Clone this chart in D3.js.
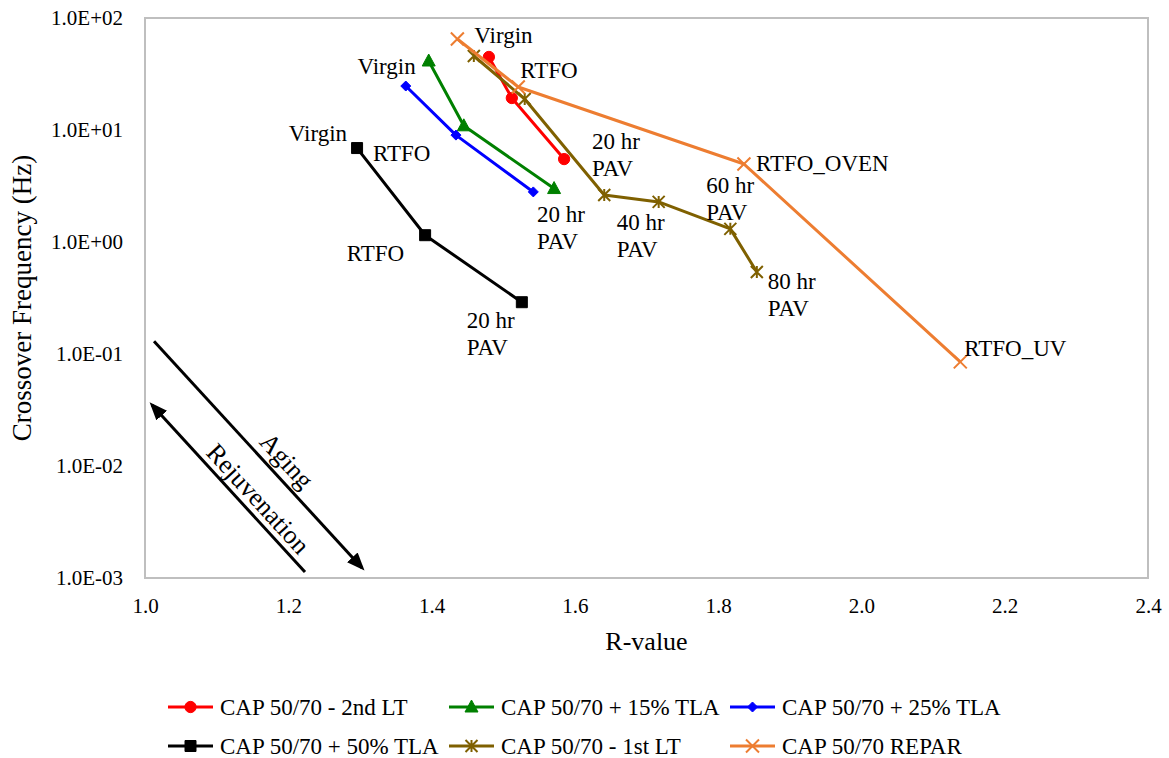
<!DOCTYPE html>
<html>
<head>
<meta charset="utf-8">
<script src="https://cdn.jsdelivr.net/npm/d3@7"></script>
<style>
  body { margin: 0; background: #fff; }
  text { font-family: "Liberation Serif", "Times New Roman", serif; fill: #000; }
</style>
</head>
<body>
<svg id="chart" width="1169" height="758"></svg>
<script>
// series names (legend order)
const seriesNames = [
    "CAP 50/70 - 2nd LT",
    "CAP 50/70 + 15% TLA",
    "CAP 50/70 + 25% TLA",
    "CAP 50/70 + 50% TLA",
    "CAP 50/70 - 1st LT",
    "CAP 50/70 REPAR"
];

// R-value / crossover frequency (Hz)
const lt2R = [1.480, 1.512, 1.585];
const lt2F = [44.9, 19.3, 5.5];

const tla15R = [1.396, 1.445, 1.571];
const tla15F = [41.3, 10.9, 3.0];

const tla25R = [1.364, 1.434, 1.542];
const tla25F = [24.7, 9.0, 2.8];

const tla50R = [1.296, 1.391, 1.526];
const tla50F = [6.9, 1.15, 0.29];

const lt1R = [1.459, 1.530, 1.641, 1.717, 1.817, 1.854];
const lt1F = [45.8, 18.9, 2.63, 2.28, 1.31, 0.54];

const reparR = [1.436, 1.521, 1.836, 2.138];
const reparF = [64.9, 24.2, 4.97, 0.085];

const xTicks = [1.0, 1.2, 1.4, 1.6, 1.8, 2.0, 2.2, 2.4];
const yTicks = [1e-3, 1e-2, 1e-1, 1e0, 1e1, 1e2];

// arrows drawn in data space: [x1, y1, x2, y2]
const agingArrow = [1.0126, 0.13, 1.303, 0.00123];
const rejuvArrow = [1.2233, 0.00113, 1.0098, 0.0351];

const seriesR = [lt2R, tla15R, tla25R, tla50R, lt1R, reparR];
const seriesF = [lt2F, tla15F, tla25F, tla50F, lt1F, reparF];

const colors = ["#ff0000", "#008000", "#0000ff", "#000000", "#7f6000", "#ed7d31"];
const markers = ["circle", "triangle", "diamond", "square", "star", "cross"];

// point labels: series index, point index, text lines, offset in px
const labels = [
    {s: 5, i: 0, t: ["Virgin"], dx: 17, dy: -4, a: "start"},
    {s: 5, i: 1, t: ["RTFO"], dx: 2, dy: -17, a: "start"},
    {s: 1, i: 0, t: ["Virgin"], dx: -13, dy: 5, a: "end"},
    {s: 3, i: 0, t: ["Virgin"], dx: -10, dy: -15, a: "end"},
    {s: 3, i: 0, t: ["RTFO"], dx: 16, dy: 5, a: "start"},
    {s: 3, i: 1, t: ["RTFO"], dx: -21, dy: 18, a: "end"},
    {s: 3, i: 2, t: ["20 hr", "PAV"], dx: -55, dy: 18, a: "start"},
    {s: 1, i: 2, t: ["20 hr", "PAV"], dx: -17, dy: 25, a: "start"},
    {s: 0, i: 2, t: ["20 hr", "PAV"], dx: 28, dy: -18, a: "start"},
    {s: 4, i: 3, t: ["40 hr", "PAV"], dx: -42, dy: 20, a: "start"},
    {s: 4, i: 4, t: ["60 hr", "PAV"], dx: -24, dy: -44, a: "start"},
    {s: 4, i: 5, t: ["80 hr", "PAV"], dx: 11, dy: 9, a: "start"},
    {s: 5, i: 2, t: ["RTFO_OVEN"], dx: 12, dy: -1, a: "start"},
    {s: 5, i: 3, t: ["RTFO_UV"], dx: 4, dy: -14, a: "start"}
];

const margin = {left: 145, right: 1148, top: 18, bottom: 578};
const svg = d3.select("#chart");

const x = d3.scaleLinear().domain([1.0, 2.4]).range([margin.left, margin.right]);
const y = d3.scaleLog().domain([1e-3, 1e2]).range([margin.bottom, margin.top]);

const expFmt = d => {
    const e = Math.round(Math.log10(d));
    return "1.0E" + (e < 0 ? "-" : "+") + String(Math.abs(e)).padStart(2, "0");
};

// plot border
svg.append("rect")
    .attr("x", margin.left).attr("y", margin.top)
    .attr("width", margin.right - margin.left)
    .attr("height", margin.bottom - margin.top)
    .attr("fill", "none")
    .attr("stroke", "#bfbfbf")
    .attr("stroke-width", 2);

// axes (labels only, no tick marks)
const xAxis = svg.append("g")
    .attr("transform", `translate(0,${margin.bottom})`)
    .call(d3.axisBottom(x).tickValues(xTicks).tickFormat(d3.format(".1f")).tickSize(0).tickPadding(20));
const yAxis = svg.append("g")
    .attr("transform", `translate(${margin.left},0)`)
    .call(d3.axisLeft(y).tickValues(yTicks).tickFormat(expFmt).tickSize(0).tickPadding(22));
[xAxis, yAxis].forEach(g => {
    g.select(".domain").remove();
    g.selectAll("text")
        .style("font-family", '"Liberation Serif", serif')
        .style("font-size", "21px")
        .attr("fill", "#000");
});

svg.append("text")
    .attr("x", (margin.left + margin.right) / 2)
    .attr("y", 650)
    .attr("text-anchor", "middle")
    .style("font-size", "26px")
    .text("R-value");

svg.append("text")
    .attr("transform", `translate(31,${(margin.top + margin.bottom) / 2}) rotate(-90)`)
    .attr("text-anchor", "middle")
    .style("font-size", "27px")
    .text("Crossover Frequency (Hz)");

// marker shapes
function markerPath(type) {
    switch (type) {
        case "circle": return d3.symbol(d3.symbolCircle, 100)();
        case "triangle": return "M0,-7L6.5,5L-6.5,5Z";
        case "diamond": return "M0,-5L5,0L0,5L-5,0Z";
        case "square": return "M-5.5,-5.5H5.5V5.5H-5.5Z";
        case "star": return "M-6,-6L6,6M-6,6L6,-6M0,-6V6";
        case "cross": return "M-6.5,-6.5L6.5,6.5M-6.5,6.5L6.5,-6.5";
    }
}
function drawMarker(g, type, color) {
    const open = type === "star" || type === "cross";
    g.append("path")
        .attr("d", markerPath(type))
        .attr("fill", open ? "none" : color)
        .attr("stroke", color)
        .attr("stroke-width", open ? 2 : 1);
}

const line = d3.line().x(d => x(d[0])).y(d => y(d[1]));

seriesNames.forEach((name, s) => {
    const pts = seriesR[s].map((r, i) => [r, seriesF[s][i]]);
    const g = svg.append("g");
    g.append("path")
        .attr("d", line(pts))
        .attr("fill", "none")
        .attr("stroke", colors[s])
        .attr("stroke-width", 3)
        .attr("stroke-linejoin", "round");
    pts.forEach(p => {
        const m = g.append("g").attr("transform", `translate(${x(p[0])},${y(p[1])})`);
        drawMarker(m, markers[s], colors[s]);
    });
});

// point labels
labels.forEach(l => {
    const px = x(seriesR[l.s][l.i]) + l.dx;
    const py = y(seriesF[l.s][l.i]) + l.dy;
    const t = svg.append("text")
        .attr("text-anchor", l.a)
        .style("font-size", "23px");
    l.t.forEach((str, k) => {
        t.append("tspan")
            .attr("x", px)
            .attr("y", py + k * 27)
            .attr("dy", "0.35em")
            .text(str);
    });
});

// aging / rejuvenation arrows
svg.append("defs").append("marker")
    .attr("id", "arrowHead")
    .attr("viewBox", "0 0 10 10")
    .attr("refX", 8).attr("refY", 5)
    .attr("markerWidth", 6).attr("markerHeight", 6)
    .attr("orient", "auto")
    .append("path")
    .attr("d", "M0,1L10,5L0,9Z")
    .attr("fill", "#000");

function drawArrow(a, label, offset) {
    const x1 = x(a[0]), y1 = y(a[1]), x2 = x(a[2]), y2 = y(a[3]);
    svg.append("line")
        .attr("x1", x1).attr("y1", y1).attr("x2", x2).attr("y2", y2)
        .attr("stroke", "#000")
        .attr("stroke-width", 3)
        .attr("marker-end", "url(#arrowHead)");
    const ang = Math.atan2(Math.abs(y2 - y1), Math.abs(x2 - x1)) * 180 / Math.PI;
    const mx = (x1 + x2) / 2 + offset[0], my = (y1 + y2) / 2 + offset[1];
    svg.append("text")
        .attr("transform", `translate(${mx},${my}) rotate(${ang})`)
        .attr("text-anchor", "middle")
        .attr("dy", "0.35em")
        .style("font-size", "26px")
        .text(label);
}
drawArrow(agingArrow, "Aging", [29, 6]);
drawArrow(rejuvArrow, "Rejuvenation", [30, 10]);

// legend
const legX = [168, 449, 730];
const legY = [707, 746];
seriesNames.forEach((name, s) => {
    const lx = legX[s % 3], ly = legY[Math.floor(s / 3)];
    const g = svg.append("g").attr("transform", `translate(${lx},${ly})`);
    g.append("line")
        .attr("x1", 0).attr("x2", 45)
        .attr("stroke", colors[s])
        .attr("stroke-width", 3);
    const m = g.append("g").attr("transform", "translate(22.5,0)");
    drawMarker(m, markers[s], colors[s]);
    g.append("text")
        .attr("x", 52)
        .attr("dy", "0.35em")
        .style("font-size", "23px")
        .text(name);
});
</script>
</body>
</html>
